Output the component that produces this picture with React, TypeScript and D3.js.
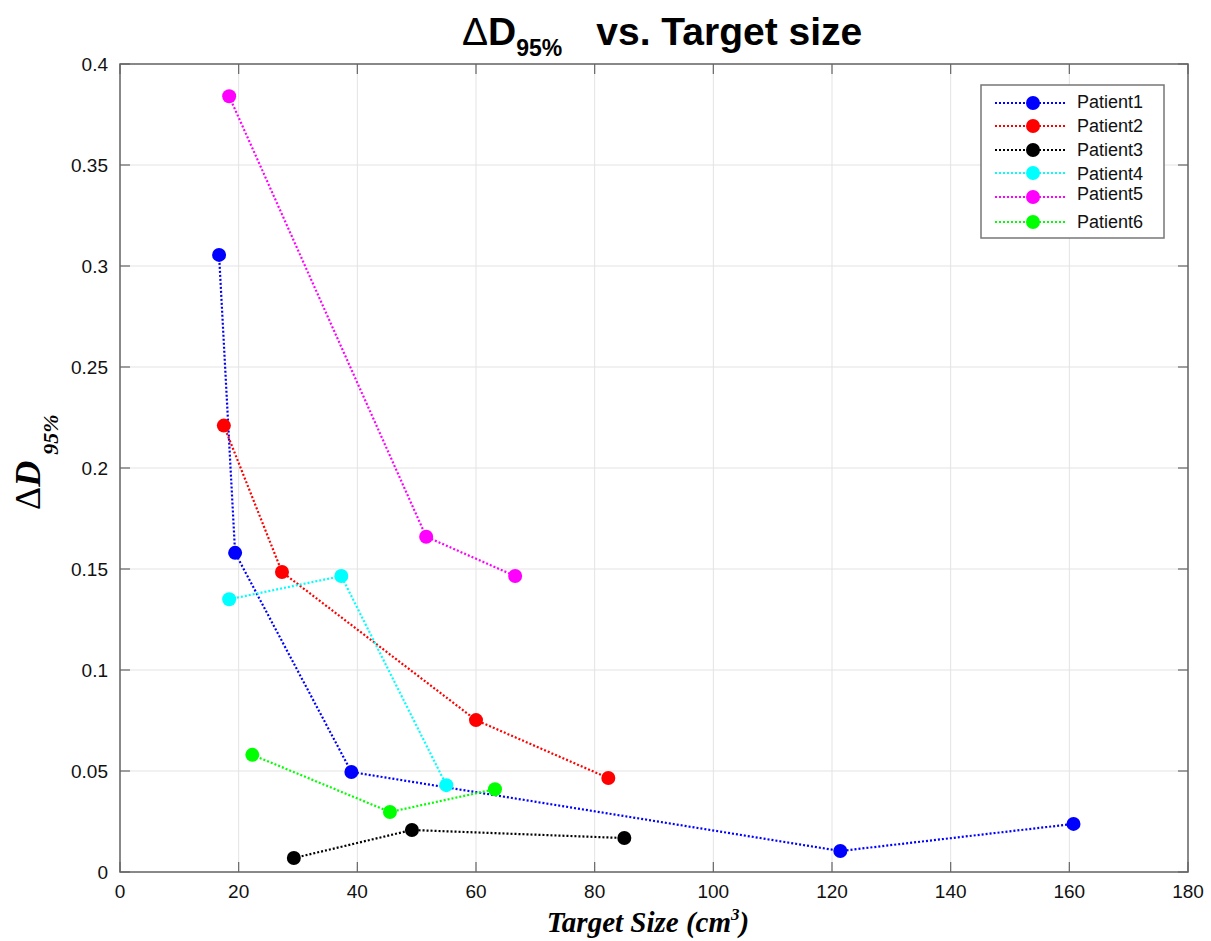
import React from "react";
import * as d3 from "d3";

const patients = ["Patient1", "Patient2", "Patient3", "Patient4", "Patient5", "Patient6"];
const colors = ["#0000ff", "#ff0000", "#000000", "#00ffff", "#ff00ff", "#00ff00"];
const p1x = [16.7, 19.4, 39.0, 121.4, 160.7];
const p1y = [0.3055, 0.158, 0.0495, 0.0104, 0.0238];
const p2x = [17.5, 27.3, 60.0, 82.3];
const p2y = [0.221, 0.1485, 0.0752, 0.0465];
const p3x = [29.3, 49.2, 85.0];
const p3y = [0.0069, 0.0208, 0.0168];
const p4x = [18.4, 37.3, 55.0];
const p4y = [0.135, 0.1465, 0.043];
const p5x = [18.4, 51.6, 66.6];
const p5y = [0.384, 0.166, 0.1465];
const p6x = [22.3, 45.5, 63.2];
const p6y = [0.058, 0.0297, 0.041];
const xTicks = [0, 20, 40, 60, 80, 100, 120, 140, 160, 180];
const yTicks = [0, 0.05, 0.1, 0.15, 0.2, 0.25, 0.3, 0.35, 0.4];

const seriesX = [p1x, p2x, p3x, p4x, p5x, p6x];
const seriesY = [p1y, p2y, p3y, p4y, p5y, p6y];

export default function App() {
  const W = 1211, H = 941;
  const L = 120, R = 1188, T = 64, B = 872;
  const x = d3.scaleLinear().domain([0, 180]).range([L, R]);
  const y = d3.scaleLinear().domain([0, 0.4]).range([B, T]);
  const line = d3.line<[number, number]>().x(d => x(d[0])).y(d => y(d[1]));
  const axisColor = "#666";
  const font = "Arial, 'Liberation Sans', sans-serif";
  const serif = "'Times New Roman', 'Liberation Serif', serif";

  const legX = 981, legY = 85, legW = 183, legH = 153;
  const legRows = [103, 126, 150, 173, 197, 222];
  const legTextY = [102, 126, 150, 174, 194, 222];

  return (
    <svg width={W} height={H} style={{ position: "absolute", left: 0, top: 0, background: "#fff" }}>
      <rect x={0} y={0} width={W} height={H} fill="#fff" />
      {xTicks.map(t => (
        <line key={"gx" + t} x1={x(t)} x2={x(t)} y1={T} y2={B} stroke="#e3e3e3" strokeWidth={1} />
      ))}
      {yTicks.map(t => (
        <line key={"gy" + t} x1={L} x2={R} y1={y(t)} y2={y(t)} stroke="#e3e3e3" strokeWidth={1} />
      ))}
      {xTicks.map(t => (
        <g key={"tx" + t}>
          <line x1={x(t)} x2={x(t)} y1={B} y2={B - 10} stroke={axisColor} strokeWidth={1.2} />
          <line x1={x(t)} x2={x(t)} y1={T} y2={T + 10} stroke={axisColor} strokeWidth={1.2} />
          <text x={x(t)} y={898} textAnchor="middle" fontFamily={font} fontSize={19} fill="#111">{t}</text>
        </g>
      ))}
      {yTicks.map(t => (
        <g key={"ty" + t}>
          <line x1={L} x2={L + 10} y1={y(t)} y2={y(t)} stroke={axisColor} strokeWidth={1.2} />
          <line x1={R} x2={R - 10} y1={y(t)} y2={y(t)} stroke={axisColor} strokeWidth={1.2} />
          <text x={108} y={y(t) + 7} textAnchor="end" fontFamily={font} fontSize={19} fill="#111">{String(t)}</text>
        </g>
      ))}
      <rect x={L} y={T} width={R - L} height={B - T} fill="none" stroke={axisColor} strokeWidth={1.5} />
      {patients.map((p, i) => {
        const pts: [number, number][] = seriesX[i].map((v, j) => [v, seriesY[i][j]]);
        return (
          <g key={p}>
            <path d={line(pts) || ""} fill="none" stroke={colors[i]} strokeWidth={2.2} strokeDasharray="2,2" />
            {pts.map((d, j) => (
              <circle key={j} cx={x(d[0])} cy={y(d[1])} r={7} fill={colors[i]} />
            ))}
          </g>
        );
      })}
      <rect x={legX} y={legY} width={legW} height={legH} fill="#fff" stroke="#777" strokeWidth={1.5} />
      {patients.map((p, i) => (
        <g key={"leg" + p}>
          <line x1={995} x2={1067} y1={legRows[i]} y2={legRows[i]} stroke={colors[i]} strokeWidth={2.2} strokeDasharray="2,2" />
          <circle cx={1033} cy={legRows[i]} r={7} fill={colors[i]} />
          <text x={1077} y={legTextY[i] + 6} fontFamily={font} fontSize={18} fill="#111">{p}</text>
        </g>
      ))}
      <text x={462} y={45} fontFamily={font} fontSize={39} fontWeight="bold" fill="#000">
        <tspan fontWeight="normal">Δ</tspan>
        <tspan>D</tspan>
        <tspan fontSize={23} dy={11}>95%</tspan>
        <tspan dy={-11} dx={34}>vs. Target size</tspan>
      </text>
      <text transform="translate(40,510) rotate(-90)" fontFamily={serif} fontSize={36} fontWeight="bold" fontStyle="italic" fill="#000">
        <tspan fontStyle="normal" fontWeight="normal">Δ</tspan>
        <tspan>D</tspan>
        <tspan fontSize={22} dy={18} dx={6}>95%</tspan>
      </text>
      <text x={648} y={932} textAnchor="middle" fontFamily={serif} fontSize={29} fontWeight="bold" fontStyle="italic" fill="#000">
        Target Size (cm<tspan fontSize={17} dy={-12}>3</tspan><tspan dy={12}>)</tspan>
      </text>
    </svg>
  );
}
